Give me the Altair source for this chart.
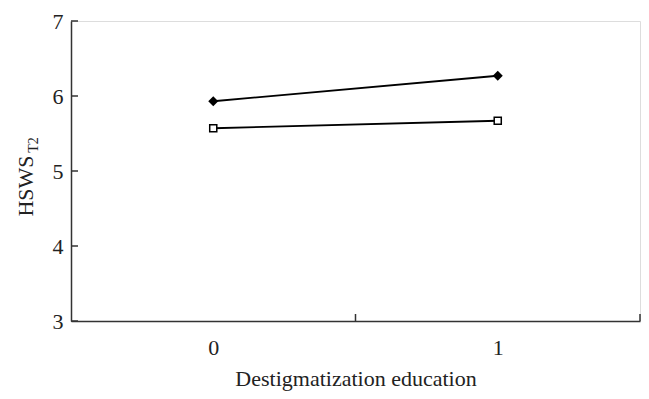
import altair as alt
import pandas as pd

# ---- data ----
education = [0, 1]
group_names = ["A", "B"]
series_a = [5.93, 6.27]   # filled diamonds
series_b = [5.57, 5.67]   # open squares
y_tick_values = [3, 4, 5, 6, 7]
x_label_values = [0, 1]
x_tick_bounds = [0.5, 1.5]

rows = []
for g, vals in zip(group_names, [series_a, series_b]):
    for e, v in zip(education, vals):
        rows.append({"education": e, "hsws": v, "group": g})
df = pd.DataFrame(rows)
ytick_df = pd.DataFrame({"education": [0] * len(y_tick_values), "hsws": y_tick_values})
xtick_df = pd.DataFrame({"education": x_tick_bounds, "hsws": [3] * len(x_tick_bounds)})

FONT = "Liberation Serif"
W, H = 569, 300
AXIS_COLOR = "#333333"
TEXT_COLOR = "#222222"

xscale = alt.Scale(domain=[-0.5, 1.5], nice=False, zero=False)
yscale = alt.Scale(domain=[3, 7], nice=False, zero=False)
xaxis = alt.Axis(
    values=x_label_values, ticks=False, grid=False, format="d",
    title="Destigmatization education", titleFont=FONT, titleFontSize=22,
    titleFontWeight="normal", titleColor=TEXT_COLOR, titlePadding=10,
    labelFont=FONT, labelFontSize=22, labelColor=TEXT_COLOR, labelPadding=16,
    domainColor=AXIS_COLOR, domainWidth=1.5,
)
yaxis = alt.Axis(
    values=y_tick_values, ticks=False, grid=False, format="d", title=None,
    labelFont=FONT, labelFontSize=22, labelColor=TEXT_COLOR, labelPadding=8,
    domainColor=AXIS_COLOR, domainWidth=1.5,
)

def X(field="education"):
    return alt.X(f"{field}:Q", scale=xscale, axis=xaxis)

def Y(field="hsws"):
    return alt.Y(f"{field}:Q", scale=yscale, axis=yaxis)

base = alt.Chart(df)

lines = base.mark_line(color="black", strokeWidth=1.8).encode(
    x=X(), y=Y(), detail="group:N"
)
diamonds = base.transform_filter(alt.datum.group == "A").mark_point(
    shape="diamond", filled=True, size=100, color="black", opacity=1
).encode(x=X(), y=Y())
squares = base.transform_filter(alt.datum.group == "B").mark_point(
    shape="square", filled=True, fill="white", stroke="black", strokeWidth=1.5,
    size=50, opacity=1
).encode(x=X(), y=Y())

yticks = alt.Chart(ytick_df).mark_rule(color=AXIS_COLOR, strokeWidth=1.5).encode(
    y=Y(), x=alt.value(0), x2=alt.value(7)
)
xticks = alt.Chart(xtick_df).mark_rule(color=AXIS_COLOR, strokeWidth=1.5).encode(
    x=X(), y=alt.value(H), y2=alt.value(H - 7)
)

title_main = alt.Chart(pd.DataFrame({"t": ["HSWS"]})).mark_text(
    font=FONT, fontSize=22, angle=270, align="center", baseline="middle",
    color=TEXT_COLOR
).encode(text="t:N", x=alt.value(-45), y=alt.value(165))
title_sub = alt.Chart(pd.DataFrame({"t": ["T2"]})).mark_text(
    font=FONT, fontSize=14, angle=270, align="center", baseline="middle",
    color=TEXT_COLOR
).encode(text="t:N", x=alt.value(-37), y=alt.value(124))

chart = alt.layer(
    lines, yticks, xticks, squares, diamonds, title_main, title_sub
).properties(
    width=W, height=H,
    autosize=alt.AutoSizeParams(type="none"),
    padding={"left": 63, "top": 13, "right": 1, "bottom": 70},
).configure_view(stroke=None).configure(background="white")

chart.save("out.html", embed_options={"renderer": "svg", "actions": False})
